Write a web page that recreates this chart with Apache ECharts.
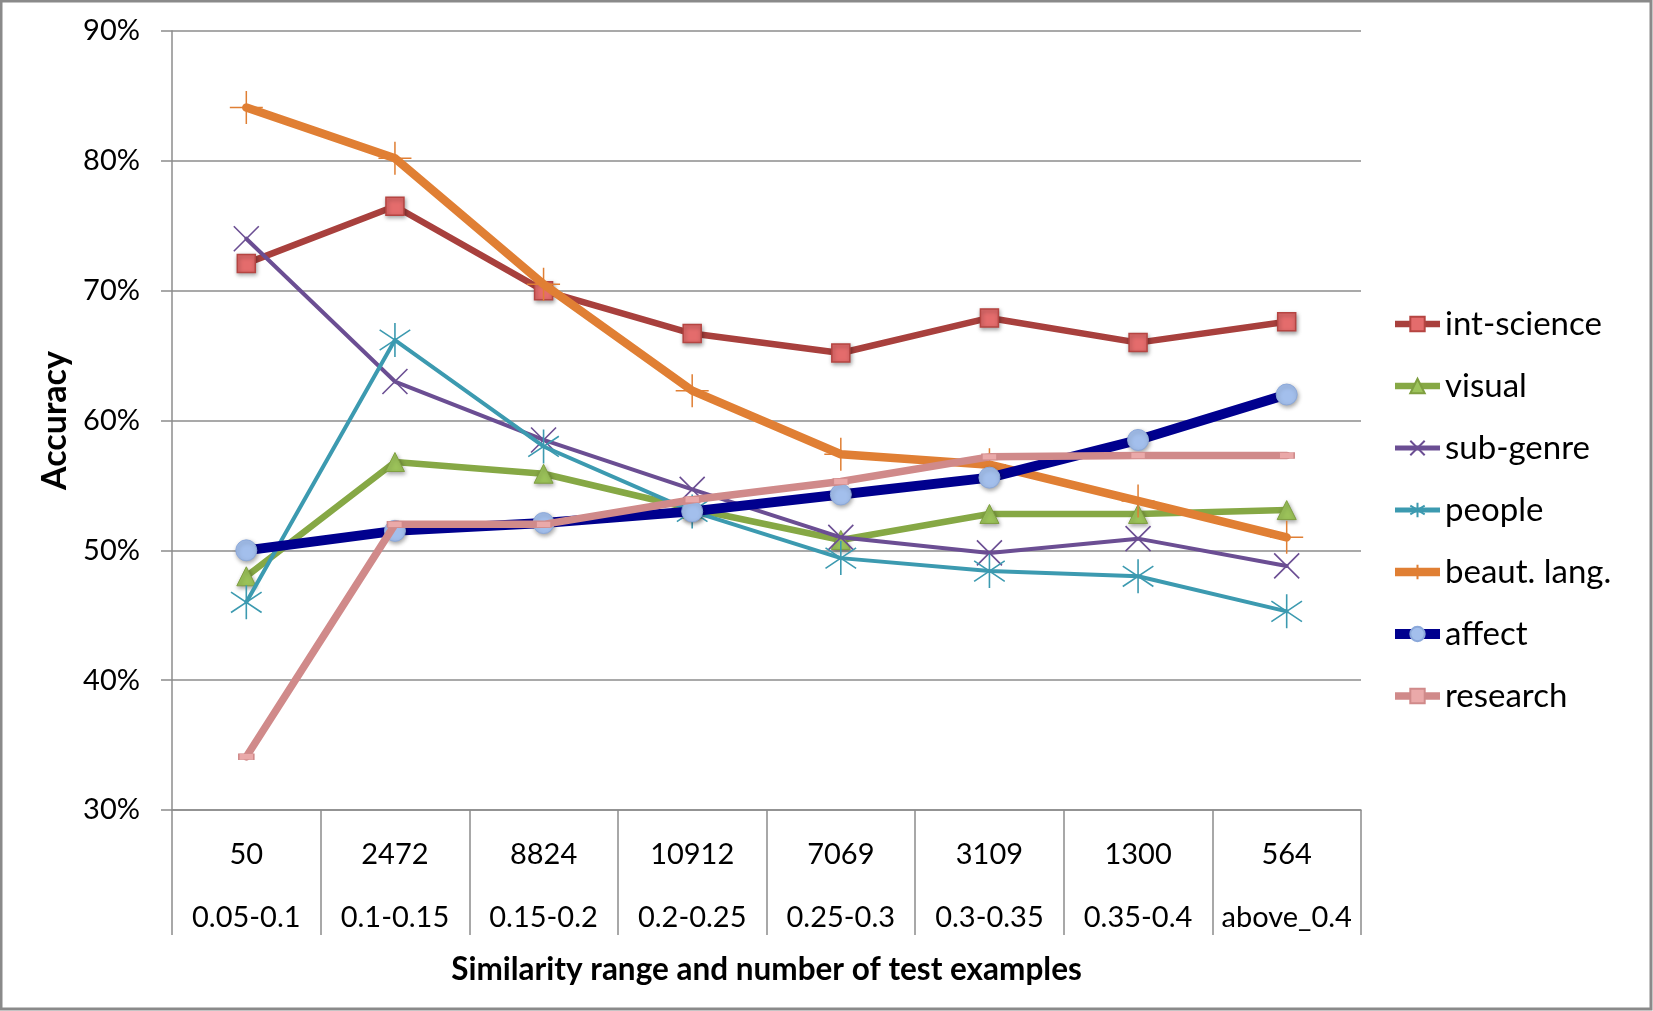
<!DOCTYPE html>
<html>
<head>
<meta charset="utf-8">
<script src="https://cdn.jsdelivr.net/npm/echarts@6/dist/echarts.min.js"></script>
<style>
html,body{margin:0;padding:0;background:#fff;}
#chart{width:1653px;height:1011px;}
</style>
</head>
<body>
<div id="chart"></div>
<script>
const counts = ['50','2472','8824','10912','7069','3109','1300','564'];
const ranges = ['0.05-0.1','0.1-0.15','0.15-0.2','0.2-0.25','0.25-0.3','0.3-0.35','0.35-0.4','above_0.4'];
const seriesNames = ['int-science','visual','sub-genre','people','beaut. lang.','affect','research'];
const intScience = [72.1, 76.5, 70.0, 66.7, 65.2, 67.9, 66.0, 67.6];
const visual     = [48.0, 56.8, 55.9, 53.2, 50.8, 52.8, 52.8, 53.1];
const subGenre   = [74.0, 63.0, 58.5, 54.7, 51.0, 49.8, 50.9, 48.8];
const people     = [46.0, 66.2, 58.0, 53.0, 49.4, 48.4, 48.0, 45.3];
const beautLang  = [84.1, 80.2, 70.5, 62.3, 57.4, 56.6, 53.8, 51.0];
const affect     = [50.0, 51.5, 52.1, 53.0, 54.3, 55.6, 58.5, 62.0];
const research   = [34.1, 52.0, 52.0, 53.9, 55.3, 57.2, 57.3, 57.3];
const yTicks = {min: 30, max: 90, interval: 10};

const categories = counts.map((c, i) => c + '\n' + ranges[i]);
const FONT = 'Lato';
const shadow = {shadowColor: 'rgba(0,0,0,0.35)', shadowBlur: 4, shadowOffsetX: 1, shadowOffsetY: 2};

const styles = [
  {data: intScience, line: '#A8403D', width: 6.5, symbol: 'rect', size: 18,
   item: Object.assign({color: '#E46C6C', borderColor: '#B54542', borderWidth: 1.5}, shadow)},
  {data: visual, line: '#86A845', width: 6.5, symbol: 'triangle', size: 19,
   item: Object.assign({color: '#9CC35A', borderColor: '#7F9F40', borderWidth: 1}, shadow)},
  {data: subGenre, line: '#6B4E93', width: 4, symbol: 'path://M0,0L20,20M20,0L0,20', size: 25,
   item: {color: 'rgba(0,0,0,0)', borderColor: '#6B4E93', borderWidth: 1.6}},
  {data: people, line: '#3C9AB0', width: 4, symbol: 'path://M10,0L10,20M1,4L19,16M19,4L1,16', size: 34,
   item: {color: 'rgba(0,0,0,0)', borderColor: '#3C9AB0', borderWidth: 1.6}},
  {data: beautLang, line: '#E07F34', width: 8.5, symbol: 'path://M10,0L10,20M0,10L20,10', size: 33,
   item: {color: 'rgba(0,0,0,0)', borderColor: '#E07F34', borderWidth: 1.5}},
  {data: affect, line: '#00008E', width: 10, symbol: 'circle', size: 21,
   item: Object.assign({color: '#A3BFEC', borderColor: '#8BA8DA', borderWidth: 1}, shadow)},
  {data: research, line: '#D08A8A', width: 7.5, symbol: 'rect', size: [15, 6],
   item: {color: '#EAA9A9', borderColor: '#D08A8A', borderWidth: 1}}
];

const series = styles.map((s, i) => ({
  name: seriesNames[i],
  type: 'line',
  data: s.data,
  symbol: s.symbol,
  symbolSize: s.size,
  symbolKeepAspect: true,
  showAllSymbol: true,
  lineStyle: {color: s.line, width: s.width, cap: 'round', join: 'round'},
  itemStyle: s.item,
  emphasis: {disabled: true},
  animation: false,
  z: 2 + i
}));

const legendData = seriesNames.map((n, i) => ({
  name: n,
  lineStyle: {color: styles[i].line, width: Math.max(styles[i].width, 5), cap: 'butt'}
}));

const chart = echarts.init(document.getElementById('chart'), null, {renderer: 'canvas'});
chart.setOption({
  animation: false,
  backgroundColor: '#fff',
  textStyle: {fontFamily: FONT},
  grid: {left: 172, right: 292, top: 31, bottom: 201, containLabel: false},
  legend: {
    orient: 'vertical',
    left: 1385,
    top: 299,
    itemWidth: 45,
    itemHeight: 18,
    itemGap: 22,
    lineStyle: {width: 'inherit'},
    textStyle: {fontFamily: FONT, fontSize: 33, color: '#000', lineHeight: 40},
    data: legendData
  },
  xAxis: {
    type: 'category',
    data: categories,
    boundaryGap: true,
    name: 'Similarity range and number of test examples',
    nameLocation: 'middle',
    nameGap: 129,
    nameTextStyle: {fontFamily: FONT, fontSize: 31.5, fontWeight: 'bold', color: '#000'},
    axisLine: {show: true, lineStyle: {color: '#8c8c8c', width: 1.5}},
    axisTick: {show: true, interval: 0, length: 125, lineStyle: {color: '#8c8c8c', width: 1.5}},
    axisLabel: {interval: 0, margin: 13, fontFamily: FONT, fontSize: 29, color: '#000', lineHeight: 63},
    splitLine: {show: false}
  },
  yAxis: {
    type: 'value',
    min: yTicks.min,
    max: yTicks.max,
    interval: yTicks.interval,
    name: 'Accuracy',
    nameLocation: 'middle',
    nameRotate: 90,
    nameGap: 98,
    nameTextStyle: {fontFamily: FONT, fontSize: 34, fontWeight: 'bold', color: '#000'},
    axisLine: {show: true, lineStyle: {color: '#8c8c8c', width: 1.5}},
    axisTick: {show: true, length: 11, lineStyle: {color: '#8c8c8c', width: 1.5}},
    axisLabel: {formatter: '{value}%', margin: 32, fontFamily: FONT, fontSize: 29, color: '#000'},
    splitLine: {show: true, lineStyle: {color: '#8c8c8c', width: 1.5}}
  },
  graphic: [{
    type: 'rect',
    shape: {x: 1, y: 1, width: 1650, height: 1008},
    style: {fill: 'none', stroke: '#8a8a8a', lineWidth: 3},
    silent: true,
    z: 100
  }],
  series: series
});
</script>
</body>
</html>
